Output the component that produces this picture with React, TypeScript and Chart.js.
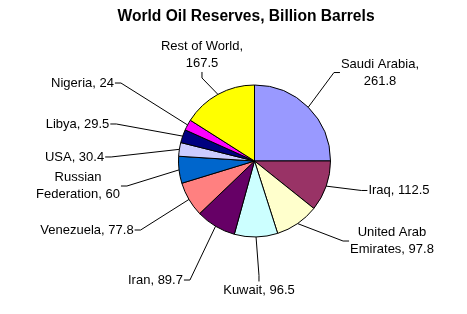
import React, { useEffect, useRef } from "react";
import { Chart, registerables } from "chart.js";

Chart.register(...registerables);

const TITLE = "World Oil Reserves, Billion Barrels";
const categories = [
  "Saudi Arabia",
  "Iraq",
  "United Arab Emirates",
  "Kuwait",
  "Iran",
  "Venezuela",
  "Russian Federation",
  "USA",
  "Libya",
  "Nigeria",
  "Rest of World",
];
const reserves = [261.8, 112.5, 97.8, 96.5, 89.7, 77.8, 60, 30.4, 29.5, 24, 167.5];
const sliceColors = [
  "#9999FF",
  "#993366",
  "#FFFFCC",
  "#CCFFFF",
  "#660066",
  "#FF8080",
  "#0066CC",
  "#CCCCFF",
  "#000080",
  "#FF00FF",
  "#FFFF00",
];
// how each data label is broken into lines (text content only)
const labelLines: string[][] = categories.map((name, i) => {
  const v = String(reserves[i]);
  if (name === "Saudi Arabia" || name === "Rest of World") return [name + ",", v];
  if (name === "United Arab Emirates") return ["United Arab", "Emirates, " + v];
  if (name === "Russian Federation") return ["Russian", "Federation, " + v];
  return [name + ", " + v];
});

// label box centres relative to the pie centre, in units of the pie radius (layout only)
const LABEL_OFFSETS: [number, number][] = [
  [1.651, -1.164],
  [1.901, 0.388],
  [1.809, 1.053],
  [0.059, 1.697],
  [-1.303, 1.566],
  [-2.204, 0.908],
  [-2.322, 0.329],
  [-2.368, -0.053],
  [-2.329, -0.487],
  [-2.263, -1.026],
  [-0.691, -1.395],
];

const FONT = 'Arial, "Liberation Sans", sans-serif';

const labelPlugin = {
  id: "outerLabels",
  afterDatasetsDraw(chart: any) {
    const ctx = chart.ctx as CanvasRenderingContext2D;
    const meta = chart.getDatasetMeta(0);
    ctx.save();
    ctx.font = "13px " + FONT;
    ctx.fillStyle = "#000";
    ctx.strokeStyle = "#000";
    ctx.lineWidth = 1;
    const lh = 17;
    const stub = 6;
    meta.data.forEach((arc: any, i: number) => {
      const p = arc.getProps(["x", "y", "startAngle", "endAngle", "outerRadius"], true);
      const mid = (p.startAngle + p.endAngle) / 2;
      const ex = p.x + Math.cos(mid) * p.outerRadius;
      const ey = p.y + Math.sin(mid) * p.outerRadius;
      const [ox, oy] = LABEL_OFFSETS[i];
      const cx = p.x + ox * p.outerRadius;
      const cy = p.y + oy * p.outerRadius;
      const lines = labelLines[i];
      const w = Math.max(...lines.map((l) => ctx.measureText(l).width));
      const h = lines.length * lh;
      const left = cx - w / 2;
      const right = cx + w / 2;
      const top = cy - h / 2;
      const bottom = cy + h / 2;
      let ax: number, ay: number, sx: number, sy: number;
      if (ex >= left && ex <= right) {
        ax = cx;
        sx = cx;
        if (ey < top) {
          ay = top;
          sy = top - stub;
        } else {
          ay = bottom;
          sy = bottom + stub;
        }
      } else if (ex < left) {
        ax = left - 1;
        ay = cy;
        sx = ax - stub;
        sy = cy;
      } else {
        ax = right + 1;
        ay = cy;
        sx = ax + stub;
        sy = cy;
      }
      ctx.beginPath();
      ctx.moveTo(ex, ey);
      ctx.lineTo(sx, sy);
      ctx.lineTo(ax, ay);
      ctx.stroke();
      ctx.textAlign = "center";
      ctx.textBaseline = "middle";
      lines.forEach((l, k) => ctx.fillText(l, cx, top + lh * (k + 0.5)));
    });
    ctx.font = "bold 15.6px " + FONT;
    ctx.textAlign = "center";
    ctx.textBaseline = "middle";
    ctx.fillText(TITLE, 246, 17);
    ctx.restore();
  },
};

export default function App() {
  const ref = useRef<HTMLCanvasElement | null>(null);
  useEffect(() => {
    if (!ref.current) return;
    const chart = new Chart(ref.current, {
      type: "pie",
      data: {
        labels: categories,
        datasets: [
          {
            data: reserves,
            backgroundColor: sliceColors,
            borderColor: "#000",
            borderWidth: 1,
            radius: 76,
          },
        ],
      },
      options: {
        responsive: false,
        devicePixelRatio: 1,
        animation: false,
        layout: { padding: { left: 178.5, top: 85, right: 136.5, bottom: 77 } },
        plugins: {
          legend: { display: false },
          title: { display: false },
          tooltip: { enabled: false },
        },
      },
      plugins: [labelPlugin],
    });
    return () => chart.destroy();
  }, []);
  return (
    <div style={{ position: "absolute", left: 0, top: 0, width: 467, height: 314, background: "#fff" }}>
      <canvas ref={ref} width={467} height={314} />
    </div>
  );
}
